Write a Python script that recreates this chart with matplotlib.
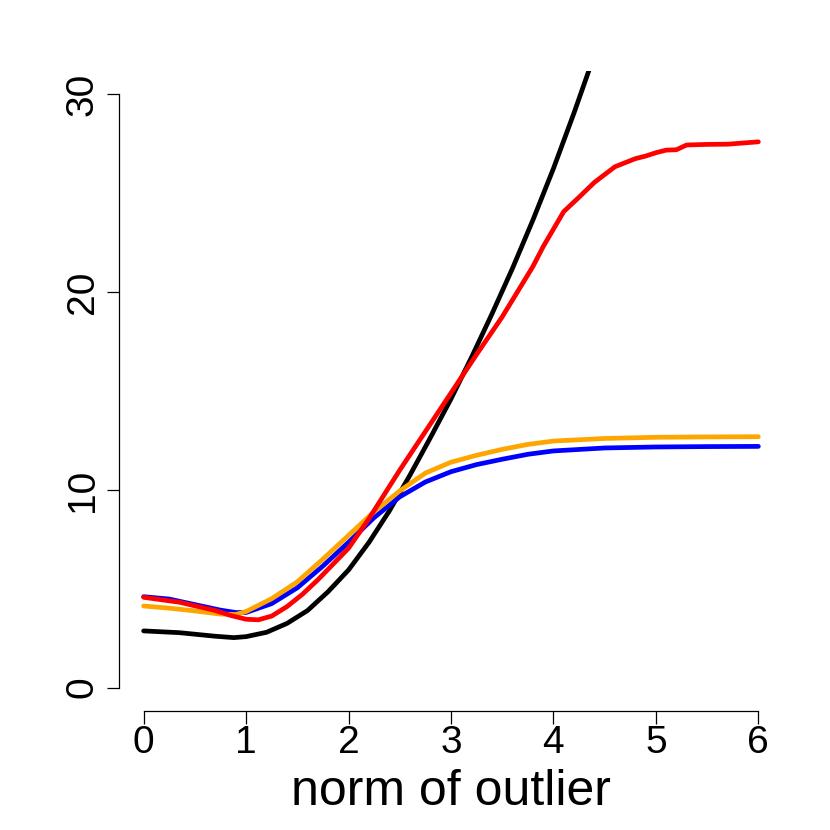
import numpy as np
import matplotlib
matplotlib.use("Agg")
import matplotlib.pyplot as plt

plt.rcParams['font.family'] = ['Liberation Sans', 'DejaVu Sans']

# curves
x_black = [0, 0.35, 0.7, 0.88, 1.0, 1.2, 1.4, 1.6, 1.8, 2.0, 2.2, 2.4,
           2.6, 2.8, 3.0, 3.2, 3.4, 3.6, 3.8, 4.0, 4.2, 4.4]
y_black = [2.87, 2.78, 2.6, 2.53, 2.58, 2.8, 3.25, 3.9, 4.85, 5.95, 7.35, 8.95,
           10.75, 12.65, 14.6, 16.7, 18.9, 21.2, 23.65, 26.25, 29.05, 32.0]

x_red = [0, 0.35, 0.7, 0.85, 1.0, 1.12, 1.25, 1.4, 1.55, 1.7, 1.85, 2.0, 2.2,
         2.5, 2.75, 3.0, 3.25, 3.5, 3.8, 3.9, 4.1, 4.25, 4.4, 4.6, 4.8, 4.9,
         5.0, 5.1, 5.2, 5.3, 5.5, 5.7, 6.0]
y_red = [4.57, 4.32, 3.9, 3.65, 3.46, 3.43, 3.62, 4.1, 4.72, 5.45, 6.25, 7.05, 8.55,
         11.0, 12.95, 14.9, 16.85, 18.75, 21.3, 22.3, 24.07, 24.8, 25.55, 26.34, 26.75, 26.88,
         27.05, 27.18, 27.2, 27.44, 27.47, 27.48, 27.6]

x_grid = [0, 0.25, 0.5, 0.75, 0.9, 1.0, 1.25, 1.5, 1.75, 2.0, 2.25, 2.5, 2.75,
          3.0, 3.25, 3.5, 3.75, 4.0, 4.5, 5.0, 5.5, 6.0]
y_blue = [4.6, 4.48, 4.2, 3.92, 3.8, 3.8, 4.25, 5.05, 6.15, 7.35, 8.6, 9.65, 10.4,
          10.92, 11.28, 11.55, 11.8, 11.97, 12.12, 12.17, 12.19, 12.2]
y_orange = [4.13, 4.02, 3.88, 3.72, 3.7, 3.85, 4.5, 5.35, 6.5, 7.7, 8.9, 9.95, 10.85,
            11.4, 11.75, 12.05, 12.3, 12.47, 12.6, 12.66, 12.68, 12.69]

xticks = [0, 1, 2, 3, 4, 5, 6]
yticks = [0, 10, 20, 30]

fig = plt.figure(figsize=(8.3, 8.3), dpi=100)
ax = fig.add_axes([0.1434, 0.1429, 0.7999, 0.772])

lw = 3.4
ax.plot(x_black, y_black, color='black', lw=lw, solid_capstyle='round')
ax.plot(x_grid, y_blue, color='blue', lw=lw, solid_capstyle='round')
ax.plot(x_grid, y_orange, color='orange', lw=lw, solid_capstyle='round')
ax.plot(x_red, y_red, color='red', lw=lw, solid_capstyle='round')

ax.set_xlim(-0.24, 6.24)
ax.set_ylim(-1.2, 31.2)

for s in ['top', 'right']:
    ax.spines[s].set_visible(False)
ax.spines['left'].set_bounds(0, 30)
ax.spines['bottom'].set_bounds(0, 6)
ax.spines['left'].set_linewidth(0.9)
ax.spines['bottom'].set_linewidth(0.9)

ax.set_xticks(xticks)
ax.set_yticks(yticks)
ax.set_xticklabels([str(v) for v in xticks])
ax.set_yticklabels([str(v) for v in yticks], rotation=90, va='center')
ax.tick_params(axis='both', length=9, width=0.9, labelsize=28)
ax.tick_params(axis='x', pad=1)
ax.tick_params(axis='y', pad=4)

ax.set_xlabel('norm of outlier', fontsize=36, labelpad=5.5)

fig.savefig('out.png', dpi=100)
